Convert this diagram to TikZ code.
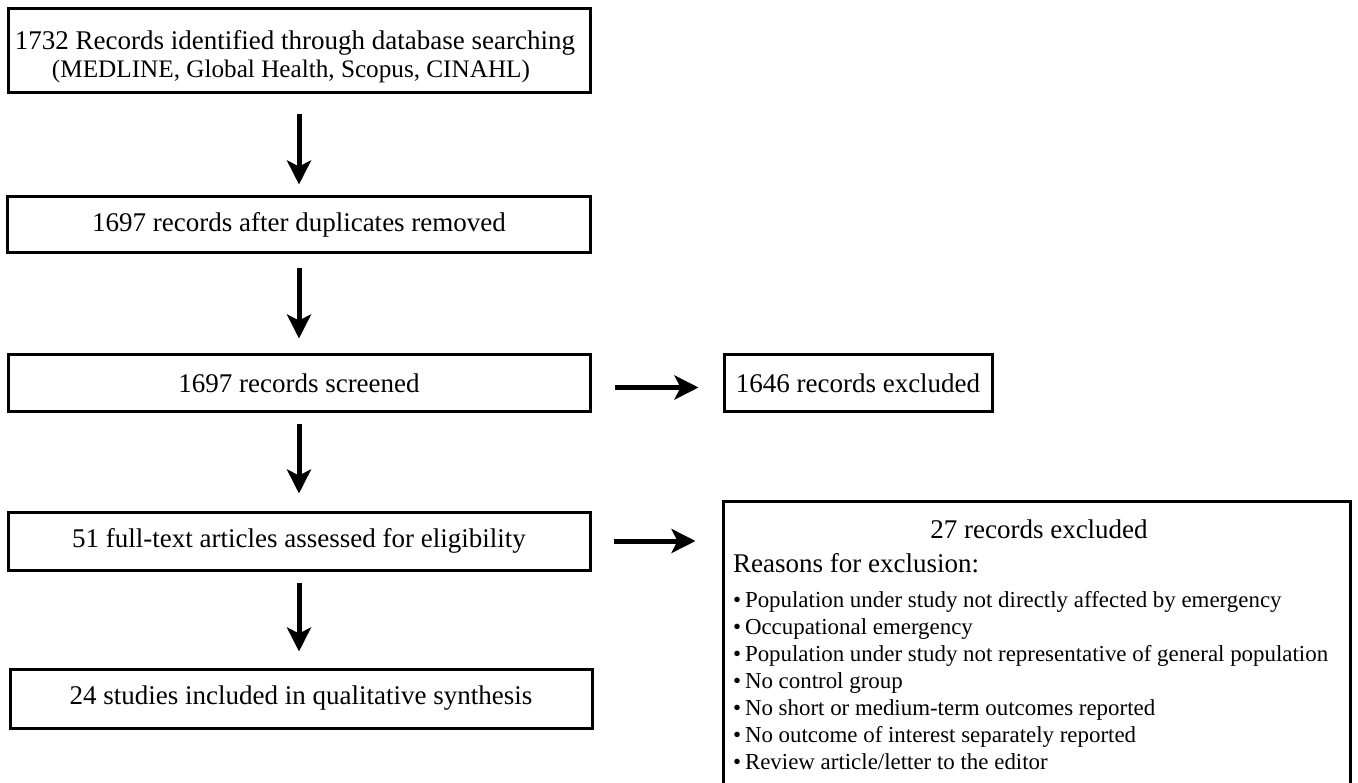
\documentclass[tikz,border=0pt]{standalone}
\usepackage{fontspec}
\setmainfont{Liberation Serif}
\usetikzlibrary{arrows.meta}
\begin{document}
\begin{tikzpicture}[x=1pt,y=-1pt,
  box/.style={draw, line width=3pt, inner sep=0pt, align=center, font=\fontsize{27}{30}\selectfont},
  arr/.style={line width=5pt, -{Stealth[length=24pt,width=24pt,inset=6pt]}},
  txt/.style={inner sep=0pt, anchor=base west, font=\fontsize{27}{30}\selectfont},
  ctxt/.style={inner sep=0pt, anchor=base},
  bul/.style={inner sep=0pt, anchor=base west, font=\fontsize{22.9}{27}\selectfont}]
\useasboundingbox (0,0) rectangle (1358,783);
\clip (0,0) rectangle (1358,783);
% left column
\node[box, minimum width=582pt, minimum height=84pt] (b1) at (299,51) {};
\node[ctxt, font=\fontsize{27}{30}\selectfont] (b1a) at (295,50) {1732 Records identified through database searching};
\node[ctxt, font=\fontsize{25.2}{28}\selectfont] (b1b) at (291,78) {(MEDLINE, Global Health, Scopus, CINAHL)};
\node[box, minimum width=583pt, minimum height=56pt] (b2) at (299,225)
  {1697 records after duplicates removed};
\node[box, minimum width=582pt, minimum height=57pt] (b3) at (299,383.5)
  {1697 records screened};
\node[box, minimum width=582pt, minimum height=58pt] (b4) at (299,541)
  {51 full-text articles assessed for eligibility};
\node[box, minimum width=582pt, minimum height=59pt] (b5) at (301,698.5)
  {24 studies included in qualitative synthesis};
% right column
\node[box, minimum width=268pt, minimum height=57pt] (ex1) at (858,383.5)
  {1646 records excluded};
\node[box, minimum width=627pt, minimum height=299pt] (ex2) at (1036.5,650.5) {};
\node[ctxt, font=\fontsize{27}{30}\selectfont] (t27) at (1039,538) {27 records excluded};
\node[txt] (rsn) at (733,572) {Reasons for exclusion:};
\foreach \t [count=\i] in {Population under study not directly affected by emergency,
  Occupational emergency,
  Population under study not representative of general population,
  No control group,
  No short or medium-term outcomes reported,
  No outcome of interest separately reported,
  Review article/letter to the editor}
  \node[bul] (r\i) at (733,580+27*\i) {\textbullet\,\t};
% arrows
\draw[arr, shorten <=20pt, shorten >=11pt] (b1.south) -- (b2.north);
\draw[arr, shorten <=14pt, shorten >=15pt] (b2.south) -- (b3.north);
\draw[arr, shorten <=11pt, shorten >=17pt] (b3.south) -- (b4.north);
\draw[arr, shorten <=11pt, shorten >=16pt] (b4.south) -- (b4.south |- b5.north);
\draw[arr, shorten <=23pt, shorten >=24pt] ([yshift=-4pt]b3.east) -- ([yshift=-4pt]b3.east -| ex1.west);
\draw[arr, shorten <=22pt, shorten >=26pt] (b4.east) -- (b4.east -| ex2.west);
\end{tikzpicture}
\end{document}
